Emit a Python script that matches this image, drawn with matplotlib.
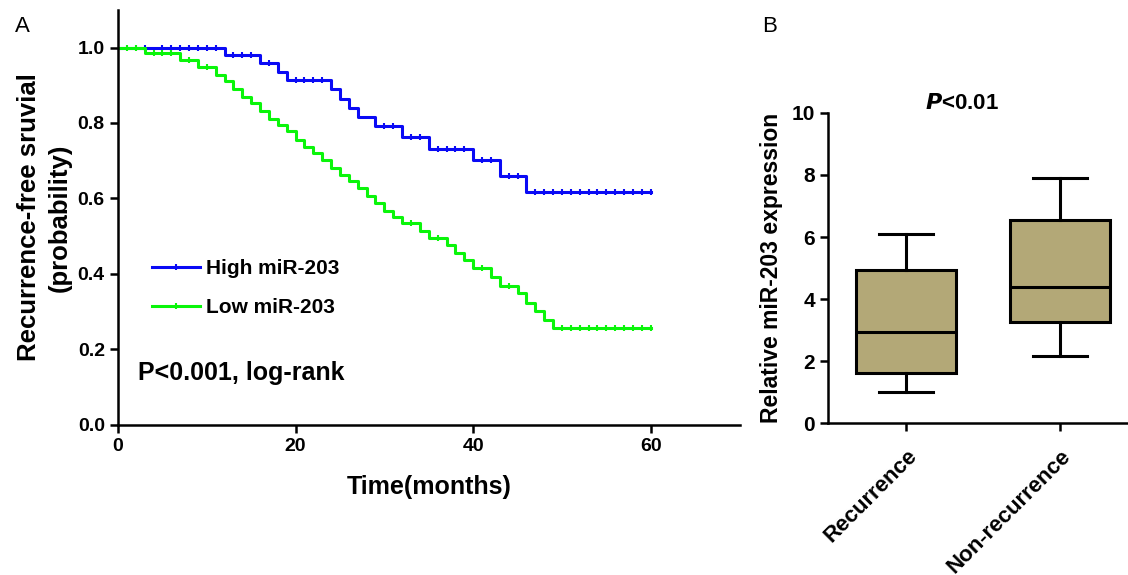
import numpy as np
import matplotlib
matplotlib.use('Agg')
import matplotlib.pyplot as plt
from matplotlib.lines import Line2D

plt.rcParams['font.family'] = ['Liberation Sans', 'DejaVu Sans']
plt.rcParams['font.weight'] = 'bold'

# Panel A: Kaplan-Meier steps (time in months, survival probability)
high_t = [0, 12, 16, 18, 19, 24, 25, 26, 27, 29, 32, 35, 40, 43, 46, 60]
high_s = [1.0, 0.980, 0.958, 0.936, 0.914, 0.889, 0.864, 0.840, 0.815,
          0.791, 0.763, 0.732, 0.702, 0.660, 0.618, 0.618]
high_cens = [3, 5, 6, 7, 8, 9, 10, 11, 13, 14, 15, 17, 20, 21, 22, 23,
             30, 31, 33, 34, 36, 37, 38, 39, 41, 42, 44, 45,
             47, 48, 49, 50, 51, 52, 53, 54, 55, 56, 57, 58, 59, 60]

low_t = [0, 3, 7, 9, 11, 12, 13, 14, 15, 16, 17, 18, 19, 20, 21, 22, 23,
         24, 25, 26, 27, 28, 29, 30, 31, 32, 34, 35, 37, 38, 39, 40, 42,
         43, 45, 46, 47, 48, 49, 60]
low_s = [1.0, 0.986, 0.966, 0.948, 0.928, 0.911, 0.889, 0.869, 0.853,
         0.831, 0.811, 0.796, 0.778, 0.756, 0.736, 0.720, 0.703, 0.681,
         0.663, 0.645, 0.628, 0.607, 0.589, 0.566, 0.552, 0.535, 0.513,
         0.495, 0.477, 0.455, 0.438, 0.416, 0.393, 0.367, 0.349, 0.323,
         0.301, 0.279, 0.256, 0.256]
low_cens = [1, 2, 4, 5, 6, 8, 10, 33, 36, 41, 44,
            50, 51, 52, 53, 54, 55, 56, 57, 58, 59, 60]

# Panel B: box plot summary (whisker low, Q1, median, Q3, whisker high)
groups = ['Recurrence', 'Non-recurrence']
whis_lo = [1.0, 2.15]
q1 = [1.6, 3.25]
medians = [2.95, 4.4]
q3 = [4.95, 6.55]
whis_hi = [6.1, 7.9]

blue = '#0A0AF5'
green = '#0AF50A'
box_col = '#B3A877'


def surv_at(times, t, s):
    idx = np.searchsorted(t, times, side='right') - 1
    return np.array(s)[idx]


fig = plt.figure(figsize=(11.28, 5.75), dpi=100)

# ---------- Panel A ----------
ax = fig.add_axes([0.1046, 0.261, 0.551, 0.722])
ax.step(high_t, high_s, where='post', color=blue, lw=2.2)
ax.plot(high_cens, surv_at(high_cens, high_t, high_s), ls='none',
        marker='|', ms=5, mew=1.5, color=blue)
ax.step(low_t, low_s, where='post', color=green, lw=2.2)
ax.plot(low_cens, surv_at(low_cens, low_t, low_s), ls='none',
        marker='|', ms=5, mew=1.5, color=green)

ax.set_xlim(0, 70)
ax.set_ylim(0, 1.1)
ax.set_xticks([0, 20, 40, 60])
ax.set_yticks([0.0, 0.2, 0.4, 0.6, 0.8, 1.0])
ax.set_yticklabels(['0.0', '0.2', '0.4', '0.6', '0.8', '1.0'])
for side in ['top', 'right']:
    ax.spines[side].set_visible(False)
for side in ['left', 'bottom']:
    ax.spines[side].set_linewidth(1.8)
ax.tick_params(width=1.8, length=6, labelsize=14, direction='out')
ax.set_xlabel('Time(months)', fontsize=18, fontweight='bold', labelpad=14)
ax.set_ylabel('Recurrence-free sruvial\n(probability)', fontsize=18.5,
              fontweight='bold', labelpad=4, linespacing=1.35)

handles = [Line2D([0], [0], color=blue, lw=2.2, marker='|', ms=5, mew=1.5),
           Line2D([0], [0], color=green, lw=2.2, marker='|', ms=5, mew=1.5)]
ax.legend(handles, ['High miR-203', 'Low miR-203'], loc='lower left',
          bbox_to_anchor=(0.055, 0.26), frameon=False, fontsize=15,
          handlelength=2.3, handletextpad=0.3, labelspacing=0.95,
          numpoints=1, borderpad=0, borderaxespad=0)
ax.text(0.032, 0.125, 'P<0.001, log-rank', transform=ax.transAxes,
        fontsize=18, fontweight='bold', va='center')

fig.text(0.013, 0.945, 'A', fontsize=16, fontweight='normal')

# ---------- Panel B ----------
bx = fig.add_axes([0.734, 0.2643, 0.266, 0.5392])
stats = []
for i in range(len(groups)):
    stats.append({'whislo': whis_lo[i], 'q1': q1[i], 'med': medians[i],
                  'q3': q3[i], 'whishi': whis_hi[i], 'fliers': [],
                  'label': groups[i]})
bx.bxp(stats, positions=[1, 2], widths=0.65, patch_artist=True,
       boxprops=dict(facecolor=box_col, edgecolor='black', linewidth=2.2),
       medianprops=dict(color='black', linewidth=2.2),
       whiskerprops=dict(color='black', linewidth=2.2),
       capprops=dict(color='black', linewidth=2.2), capwidths=0.35)
bx.set_xlim(0.49, 2.44)
bx.set_ylim(0, 10)
bx.set_yticks([0, 2, 4, 6, 8, 10])
bx.set_xticks([1, 2])
bx.set_xticklabels(groups, rotation=45, ha='right', va='top',
                   rotation_mode='anchor', fontsize=16, fontweight='bold')
for side in ['top', 'right']:
    bx.spines[side].set_visible(False)
for side in ['left', 'bottom']:
    bx.spines[side].set_linewidth(1.8)
bx.tick_params(width=1.8, length=6, direction='out')
bx.tick_params(axis='x', pad=10)
bx.tick_params(axis='y', labelsize=15)
bx.set_ylabel('Relative miR-203 expression', fontsize=16.5,
              fontweight='bold', labelpad=6)
bx.text(1.36, 10.3, r'$\mathbfit{P}$<0.01', fontsize=16, fontweight='bold',
        ha='center', va='center')

fig.text(0.676, 0.945, 'B', fontsize=16, fontweight='normal')

fig.savefig('out.png', dpi=100)
